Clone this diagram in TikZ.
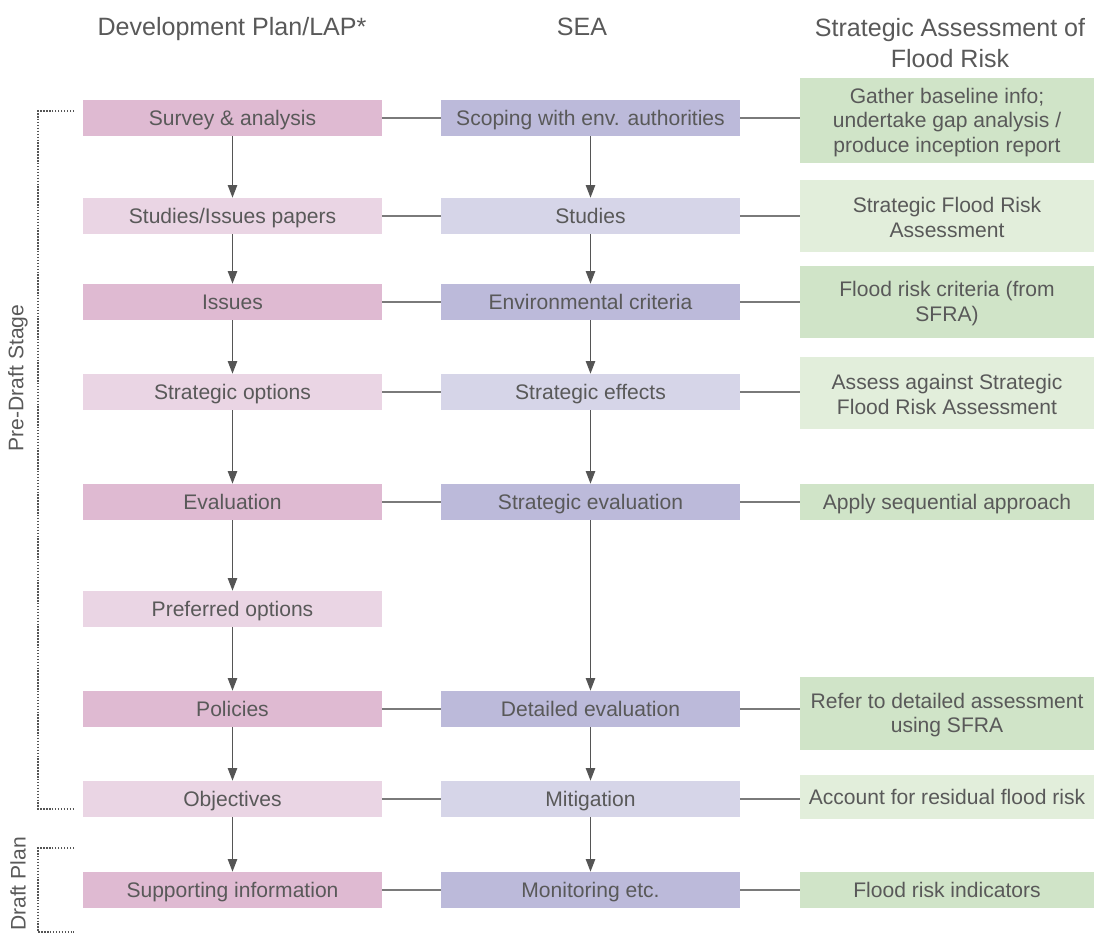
\documentclass[tikz,border=0pt]{standalone}
\usepackage{fontspec}
\setmainfont{Liberation Sans}
\usetikzlibrary{arrows.meta}
\definecolor{txt}{HTML}{595959}
\definecolor{pinkD}{HTML}{DFBAD2}
\definecolor{pinkL}{HTML}{EAD5E4}
\definecolor{lilaD}{HTML}{BCBADA}
\definecolor{lilaL}{HTML}{D6D5E8}
\definecolor{grnD}{HTML}{D0E4C8}
\definecolor{grnL}{HTML}{E2EEDB}
\definecolor{lin}{HTML}{7A7A7A}
\definecolor{arr}{HTML}{555555}
\tikzset{
  x=0.75pt, y=-0.75pt,
  box/.style={inner sep=0pt, minimum width=224.25pt, minimum height=27pt, text=txt,
    font=\fontsize{15.8}{18.4}\selectfont, align=center, text height=12.8pt, text depth=1.9pt},
  gbox/.style={inner sep=0pt, minimum width=220.5pt},
  gtext/.style={inner sep=0pt, text=txt, font=\fontsize{15.8}{18.4}\selectfont,
    align=center, yshift=-1.3pt},
  gone/.style={inner sep=0pt, minimum width=220.5pt, text=txt,
    font=\fontsize{15.8}{18.4}\selectfont, align=center, text height=12.8pt, text depth=1.9pt},
  hdr/.style={text=txt, font=\fontsize{18.8}{23.2}\selectfont, align=center, inner sep=0pt},
  link/.style={draw=lin, line width=1.1pt},
  flow/.style={draw=arr, line width=1.1pt, -{Triangle[width=7pt,length=9.5pt]}},
  brk/.style={draw=arr, line width=1.3pt, dash pattern=on 1.1pt off 1.1pt},
  side/.style={text=txt, font=\fontsize{15.8}{18.4}\selectfont, rotate=90, inner sep=0pt}
}
\begin{document}
\begin{tikzpicture}
\useasboundingbox (0,0) rectangle (1095,934);
% headers
\node[hdr] (h1) at (232,29) {Development Plan/LAP*};
\node[hdr] (h2) at (582,27) {SEA};
\node[hdr] (h3) at (950,43) {Strategic Assessment of\\Flood Risk};
% column 1
\node[box, fill=pinkD] (a1) at (232.5,118) {Survey \& analysis};
\node[box, fill=pinkL] (a2) at (232.5,216) {Studies/Issues papers};
\node[box, fill=pinkD] (a3) at (232.5,302) {Issues};
\node[box, fill=pinkL] (a4) at (232.5,392) {Strategic options};
\node[box, fill=pinkD] (a5) at (232.5,502) {Evaluation};
\node[box, fill=pinkL] (a6) at (232.5,609) {Preferred options};
\node[box, fill=pinkD] (a7) at (232.5,709) {Policies};
\node[box, fill=pinkL] (a8) at (232.5,799) {Objectives};
\node[box, fill=pinkD] (a9) at (232.5,890) {Supporting information};
% column 2
\node[box, fill=lilaD] (b1) at (590.5,118) {Scoping with env. authorities};
\node[box, fill=lilaL] (b2) at (590.5,216) {Studies};
\node[box, fill=lilaD] (b3) at (590.5,302) {Environmental criteria};
\node[box, fill=lilaL] (b4) at (590.5,392) {Strategic effects};
\node[box, fill=lilaD] (b5) at (590.5,502) {Strategic evaluation};
\node[box, fill=lilaD] (b7) at (590.5,709) {Detailed evaluation};
\node[box, fill=lilaL] (b8) at (590.5,799) {Mitigation};
\node[box, fill=lilaD] (b9) at (590.5,890) {Monitoring etc.};
% column 3
\node[gbox, fill=grnD, minimum height=63.75pt,
  label={[gtext]center:{Gather baseline info;\\undertake gap analysis /\\produce inception report}}] (c1) at (947,120.5) {};
\node[gbox, fill=grnL, minimum height=54pt,
  label={[gtext]center:{Strategic Flood Risk\\Assessment}}] (c2) at (947,216) {};
\node[gbox, fill=grnD, minimum height=54pt,
  label={[gtext]center:{Flood risk criteria (from\\SFRA)}}] (c3) at (947,302) {};
\node[gbox, fill=grnL, minimum height=54pt,
  label={[gtext]center:{Assess against Strategic\\Flood Risk Assessment}}] (c4) at (947,393) {};
\node[gone, fill=grnD, minimum height=27pt] (c5) at (947,502) {Apply sequential approach};
\node[gbox, fill=grnD, minimum height=54.75pt,
  label={[gtext]center:{Refer to detailed assessment\\using SFRA}}] (c7) at (947,713.5) {};
\node[gone, fill=grnL, minimum height=33pt] (c8) at (947,797) {Account for residual flood risk};
\node[gone, fill=grnD, minimum height=27pt] (c9) at (947,890) {Flood risk indicators};
% horizontal links
\foreach \i in {1,2,3,4,5,7,8,9}{
  \draw[link] (a\i.east) -- (b\i.west);
  \draw[link] (b\i.east) -- (c\i.west |- b\i.east);
}
% vertical flows
\draw[flow] (a1) -- (a2);
\draw[flow] (a2) -- (a3);
\draw[flow] (a3) -- (a4);
\draw[flow] (a4) -- (a5);
\draw[flow] (a5) -- (a6);
\draw[flow] (a6) -- (a7);
\draw[flow] (a7) -- (a8);
\draw[flow] (a8) -- (a9);
\draw[flow] (b1) -- (b2);
\draw[flow] (b2) -- (b3);
\draw[flow] (b3) -- (b4);
\draw[flow] (b4) -- (b5);
\draw[flow] (b5) -- (b7);
\draw[flow] (b7) -- (b8);
\draw[flow] (b8) -- (b9);
% brackets
\coordinate (p1) at (74,111);
\coordinate (p2) at (38,111);
\coordinate (p3) at (38,809);
\coordinate (p4) at (74,809);
\draw[brk] (p1) -- (p2) -- (p3) -- (p4);
\coordinate (q1) at (74,848);
\coordinate (q2) at (38,848);
\coordinate (q3) at (38,932);
\coordinate (q4) at (74,932);
\draw[brk] (q1) -- (q2) -- (q3) -- (q4);
\node[side] (s1) at (18,378) {Pre-Draft Stage};
\node[side] (s2) at (18,884) {Draft Plan};
\end{tikzpicture}
\end{document}
